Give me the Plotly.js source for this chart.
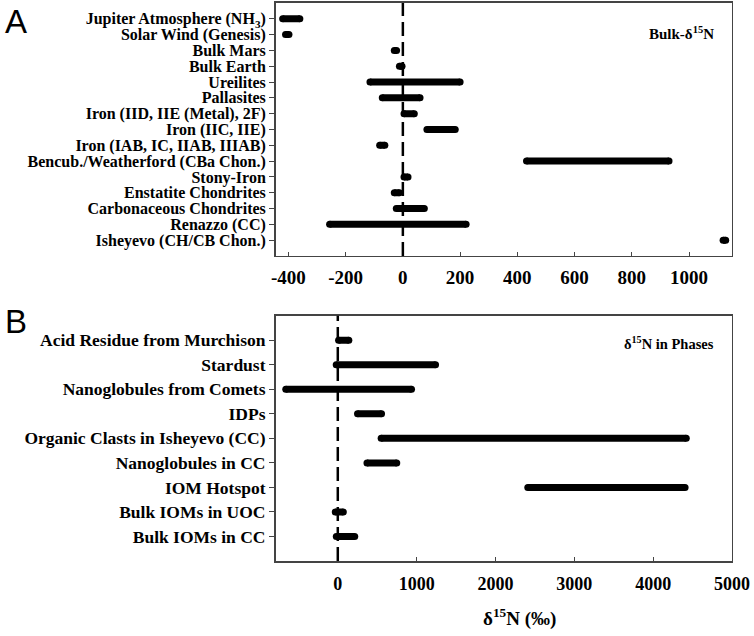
<!DOCTYPE html>
<html>
<head>
<meta charset="utf-8">
<script src="https://cdn.plot.ly/plotly-3.0.1.min.js"></script>
<style>html,body{margin:0;padding:0;background:#fff;}#chart{width:754px;height:636px;}</style>
</head>
<body>
<div id="chart"></div>
<script>
// Panel A: bulk delta-15N ranges (per mil)
const catsA = ["Jupiter Atmosphere (NH<sub>3</sub>)", "Solar Wind (Genesis)", "Bulk Mars", "Bulk Earth", "Ureilites", "Pallasites", "Iron (IID, IIE (Metal), 2F)", "Iron (IIC, IIE)", "Iron (IAB, IC, IIAB, IIIAB)", "Bencub./Weatherford (CBa Chon.)", "Stony-Iron", "Enstatite Chondrites", "Carbonaceous Chondrites", "Renazzo (CC)", "Isheyevo (CH/CB Chon.)"];
const lowA  = [-420, -410, -30, -12, -115, -72, 4, 84, -81, 432, 4, -30, -23, -256, 1119];
const highA = [-360, -398, -22, -3, 200, 60, 40, 183, -63, 930, 18, -12, 75, 221, 1128];
const xticksA = [-400, -200, 0, 200, 400, 600, 800, 1000];

// Panel B: delta-15N in phases (per mil)
const catsB = ["Acid Residue from Murchison", "Stardust", "Nanoglobules from Comets", "IDPs", "Organic Clasts in Isheyevo (CC)", "Nanoglobules in CC", "IOM Hotspot", "Bulk IOMs in UOC", "Bulk IOMs in CC"];
const lowB  = [10, -20, -660, 250, 550, 370, 2410, -32, -19];
const highB = [140, 1240, 935, 555, 4420, 748, 4405, 70, 215];
const xticksB = [0, 1000, 2000, 3000, 4000, 5000];

function segs(lo, hi, n) {
  const x = [], y = [];
  for (let i = 0; i < lo.length; i++) {
    const row = n - i;
    x.push(lo[i], hi[i], null);
    y.push(row, row, null);
  }
  return {x, y};
}
const sA = segs(lowA, highA, catsA.length);
const sB = segs(lowB, highB, catsB.length);

const barStyle = {mode: 'lines+markers', line: {color: '#000', width: 7}, marker: {color: '#000', size: 7, symbol: 'circle'}, hoverinfo: 'skip', showlegend: false, connectgaps: false};

const traces = [
  Object.assign({type: 'scatter', x: sA.x, y: sA.y, xaxis: 'x', yaxis: 'y'}, barStyle),
  Object.assign({type: 'scatter', x: sB.x, y: sB.y, xaxis: 'x2', yaxis: 'y2'}, barStyle)
];

const serif = 'Liberation Serif, Times New Roman, serif';
const axLine = {showline: true, linecolor: '#444', linewidth: 1.5, mirror: true, showgrid: false, zeroline: false};

const layout = {
  width: 754, height: 636,
  margin: {l: 0, r: 0, t: 0, b: 0},
  paper_bgcolor: '#fff', plot_bgcolor: '#fff',
  xaxis: Object.assign({domain: [0.3654, 0.9708], anchor: 'y', range: [-445, 1150], tickmode: 'array', tickvals: xticksA, ticktext: xticksA.map(String), ticks: 'inside', ticklen: 4, tickcolor: '#444', tickfont: {family: serif, size: 19, color: '#000', weight: 700}, ticklabelstandoff: 4}, axLine),
  yaxis: Object.assign({domain: [0.5975, 0.9953], anchor: 'x', range: [0, 16], tickmode: 'array', tickvals: catsA.map((c, i) => catsA.length - i), ticktext: catsA, ticks: 'outside', ticklen: 5, tickcolor: '#444', tickfont: {family: serif, size: 16, color: '#000', weight: 700}}, axLine),
  xaxis2: Object.assign({domain: [0.3654, 0.9708], anchor: 'y2', range: [-790, 5000], tickmode: 'array', tickvals: xticksB, ticktext: xticksB.map(String), ticks: 'inside', ticklen: 4, tickcolor: '#444', tickfont: {family: serif, size: 18, color: '#000', weight: 700}, ticklabelstandoff: 6}, axLine),
  yaxis2: Object.assign({domain: [0.1179, 0.5036], anchor: 'x2', range: [0, 10], tickmode: 'array', tickvals: catsB.map((c, i) => catsB.length - i), ticktext: catsB, ticks: 'outside', ticklen: 5, tickcolor: '#444', tickfont: {family: serif, size: 17.5, color: '#000', weight: 700}}, axLine),
  shapes: [
    {type: 'line', xref: 'x', yref: 'y domain', x0: 0, x1: 0, y0: 0, y1: 1, line: {color: '#000', width: 2.5, dash: '14px,6px'}, layer: 'above'},
    {type: 'line', xref: 'x2', yref: 'y2 domain', x0: 0, x1: 0, y0: 0, y1: 1, line: {color: '#000', width: 2.5, dash: '14px,6px'}, layer: 'above'}
  ],
  annotations: [
    {text: 'A', xref: 'paper', yref: 'paper', x: 0.004, y: 0.998, xanchor: 'left', yanchor: 'top', showarrow: false, font: {family: 'Liberation Sans, Arial, sans-serif', size: 33, color: '#000'}},
    {text: 'B', xref: 'paper', yref: 'paper', x: 0.004, y: 0.527, xanchor: 'left', yanchor: 'top', showarrow: false, font: {family: 'Liberation Sans, Arial, sans-serif', size: 33, color: '#000'}},
    {text: 'Bulk-δ<sup>15</sup>N', xref: 'paper', yref: 'paper', x: 0.949, y: 1 - 33 / 636, xanchor: 'right', yanchor: 'middle', showarrow: false, font: {family: serif, size: 15, color: '#000', weight: 700}},
    {text: 'δ<sup>15</sup>N in Phases', xref: 'paper', yref: 'paper', x: 0.949, y: 1 - 343 / 636, xanchor: 'right', yanchor: 'middle', showarrow: false, font: {family: serif, size: 14.5, color: '#000', weight: 700}},
    {text: 'δ<sup>15</sup>N (‰)', xref: 'paper', yref: 'paper', x: 519 / 754, y: 1 - 617 / 636, xanchor: 'center', yanchor: 'middle', showarrow: false, font: {family: serif, size: 19, color: '#000', weight: 700}}
  ]
};

Plotly.newPlot('chart', traces, layout, {displayModeBar: false, staticPlot: true});
</script>
</body>
</html>
